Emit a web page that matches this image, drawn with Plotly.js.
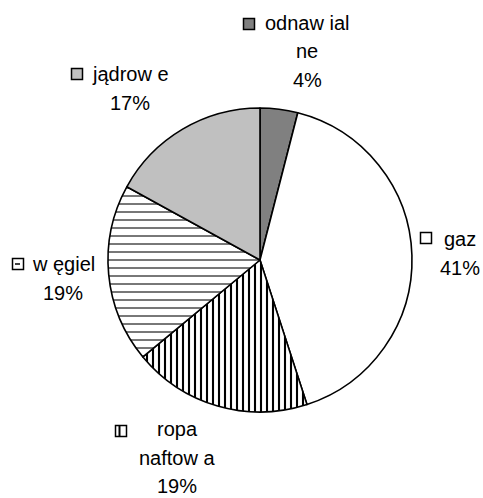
<!DOCTYPE html>
<html>
<head>
<meta charset="utf-8">
<script src="https://cdn.plot.ly/plotly-3.0.1.min.js"></script>
<style>html,body{margin:0;padding:0;background:#fff;}#chart{width:483px;height:498px;}</style>
</head>
<body>
<div id="chart"></div>
<script>
// ---- data ----
const categories = ['odnawialne', 'gaz', 'ropa naftowa', 'węgiel', 'jądrowe'];
const values = [4, 41, 19, 19, 17];
const labelLines = [['odnaw ial', 'ne'], ['gaz'], ['ropa', 'naftow a'], ['w ęgiel'], ['jądrow e']];

// ---- styles ----
const W = 483, H = 498;
const fills = ['#808080', '#ffffff', '#ffffff', '#ffffff', '#c0c0c0'];
const patterns = ['', '', '|', '-', ''];
// label block placement (pixels): text center x, first line center y
const labelPos = [[307, 23], [460, 239], [177, 429], [63, 264], [130, 74]];
// key square centers (pixels)
const keyPos = [[249, 24], [426, 238], [121, 431], [18, 264], [77, 74]];
const lineStep = 28.5;
const keySize = 11;
const font = {family: '"Liberation Sans", Arial, sans-serif', size: 20, color: '#000'};

const px = x => x / W;
const py = y => 1 - y / H;

const total = values.reduce((a, b) => a + b, 0);

const trace = {
  type: 'pie',
  values: values,
  labels: categories,
  sort: false,
  direction: 'clockwise',
  rotation: 0,
  textinfo: 'none',
  hoverinfo: 'label+percent',
  showlegend: false,
  domain: {x: [px(108), px(412)], y: [py(412), py(108)]},
  marker: {
    colors: fills,
    line: {color: '#000', width: 1.6},
    pattern: {
      shape: patterns,
      fgcolor: ['#000', '#000', '#000', '#555', '#000'],
      bgcolor: fills,
      size: [6, 6, 6, 8, 6],
      solidity: [0.3, 0.3, 0.35, 0.2, 0.3],
      fillmode: 'replace'
    }
  }
};

const annotations = [];
const shapes = [];
categories.forEach((c, i) => {
  const lines = labelLines[i].concat([Math.round(values[i] / total * 100) + '%']);
  lines.forEach((t, j) => {
    annotations.push({
      xref: 'paper', yref: 'paper',
      x: px(labelPos[i][0]), y: py(labelPos[i][1] + j * lineStep),
      xanchor: 'center', yanchor: 'middle',
      text: t, showarrow: false, font: font, borderpad: 0
    });
  });
  const [kx, ky] = keyPos[i];
  const h = keySize / 2;
  shapes.push({
    type: 'rect', xref: 'paper', yref: 'paper',
    x0: px(kx - h), x1: px(kx + h), y0: py(ky + h), y1: py(ky - h),
    fillcolor: fills[i], line: {color: '#000', width: 1.5}
  });
  if (patterns[i] === '|') {
    shapes.push({type: 'line', xref: 'paper', yref: 'paper',
      x0: px(kx - 1.5), x1: px(kx - 1.5), y0: py(ky + h), y1: py(ky - h),
      line: {color: '#000', width: 2}});
  } else if (patterns[i] === '-') {
    shapes.push({type: 'line', xref: 'paper', yref: 'paper',
      x0: px(kx - 3), x1: px(kx + 2), y0: py(ky), y1: py(ky),
      line: {color: '#000', width: 1.5}});
  }
});

const layout = {
  width: W, height: H,
  margin: {l: 0, r: 0, t: 0, b: 0},
  paper_bgcolor: '#fff',
  plot_bgcolor: '#fff',
  annotations: annotations,
  shapes: shapes
};

Plotly.newPlot('chart', [trace], layout, {displayModeBar: false, staticPlot: true});
</script>
</body>
</html>
